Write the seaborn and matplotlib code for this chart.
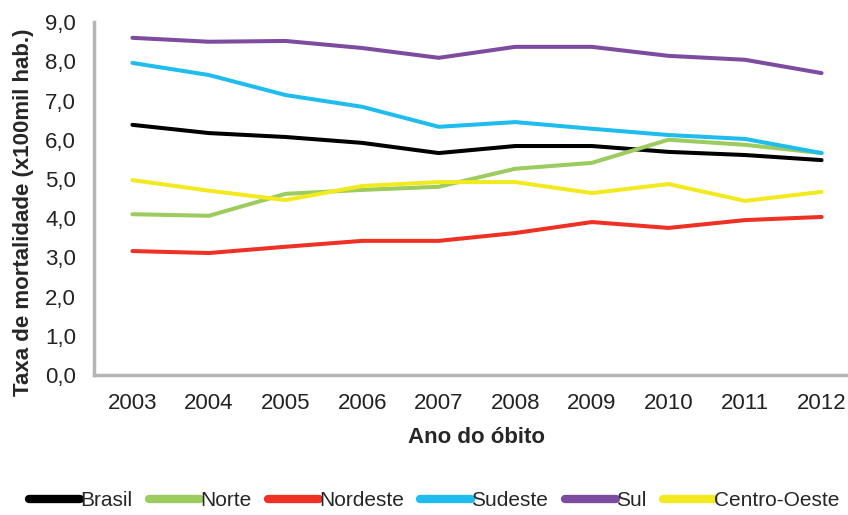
import matplotlib
matplotlib.use("Agg")
import matplotlib.pyplot as plt
import matplotlib.ticker as mticker
import numpy as np
import pandas as pd
import seaborn as sns

years = [2003, 2004, 2005, 2006, 2007, 2008, 2009, 2010, 2011, 2012]
brasil = [6.38, 6.17, 6.07, 5.92, 5.66, 5.84, 5.84, 5.69, 5.61, 5.48]
norte = [4.10, 4.06, 4.62, 4.72, 4.80, 5.26, 5.41, 6.00, 5.87, 5.66]
nordeste = [3.16, 3.11, 3.27, 3.42, 3.42, 3.62, 3.90, 3.75, 3.95, 4.03]
sudeste = [7.96, 7.65, 7.14, 6.84, 6.33, 6.45, 6.28, 6.12, 6.02, 5.66]
sul = [8.60, 8.50, 8.52, 8.34, 8.09, 8.37, 8.37, 8.14, 8.04, 7.70]
centro_oeste = [4.97, 4.70, 4.46, 4.82, 4.92, 4.92, 4.64, 4.87, 4.44, 4.67]

regions = ["Brasil", "Norte", "Nordeste", "Sudeste", "Sul", "Centro-Oeste"]
series = [brasil, norte, nordeste, sudeste, sul, centro_oeste]
colors = ["#000000", "#9CCB5E", "#EE3124", "#1EBDEE", "#7D4CA0", "#F2EA1E"]

rows = []
for name, vals in zip(regions, series):
    for i, (yr, v) in enumerate(zip(years, vals)):
        rows.append({"pos": i, "Ano": str(yr), "Regiao": name, "Taxa": v})
df = pd.DataFrame(rows)

sns.set_style("white")
plt.rcParams["font.family"] = ["Liberation Sans", "DejaVu Sans"]

fig = plt.figure(figsize=(8.48, 5.15), dpi=100)
ax = fig.add_axes([0.111, 0.272, 0.903, 0.685])

sns.lineplot(data=df, x="pos", y="Taxa", hue="Regiao", hue_order=regions,
             palette=dict(zip(regions, colors)), linewidth=2.9, ax=ax,
             legend=True)

ax.set_xlim(-0.5, 9.5)
ax.set_ylim(0, 9)
ax.set_xticks(range(len(years)))
ax.set_xticklabels([str(y) for y in years], fontsize=16, color="#222222")
ax.set_yticks(np.arange(0, 9.1, 1.0))
ax.yaxis.set_major_formatter(mticker.FuncFormatter(lambda v, p: f"{v:.1f}".replace(".", ",")))
ax.tick_params(axis="y", labelsize=16, labelcolor="#222222", length=0, pad=13)
ax.tick_params(axis="x", length=0, pad=13)

for side in ["top", "right"]:
    ax.spines[side].set_visible(False)
for side in ["left", "bottom"]:
    ax.spines[side].set_color("#b5b5b5")
    ax.spines[side].set_linewidth(2.5)

ax.set_xlabel("Ano do óbito", fontsize=16, fontweight="bold")
ax.set_ylabel("Taxa de mortalidade (x100mil hab.)", fontsize=16, fontweight="bold")
ax.xaxis.set_label_coords(0.5, -0.147)
ax.yaxis.set_label_coords(-0.078, 0.46)

handles, labels = ax.get_legend_handles_labels()
ax.legend_.remove()
for h in handles:
    h.set_linewidth(6)
fig.legend(handles, labels, loc="upper center", bbox_to_anchor=(0.512, 0.066), ncol=6,
           frameon=False, fontsize=15, handlelength=2.45, handletextpad=0.0,
           columnspacing=0.8, borderpad=0)

fig.savefig("out.png", dpi=100)
